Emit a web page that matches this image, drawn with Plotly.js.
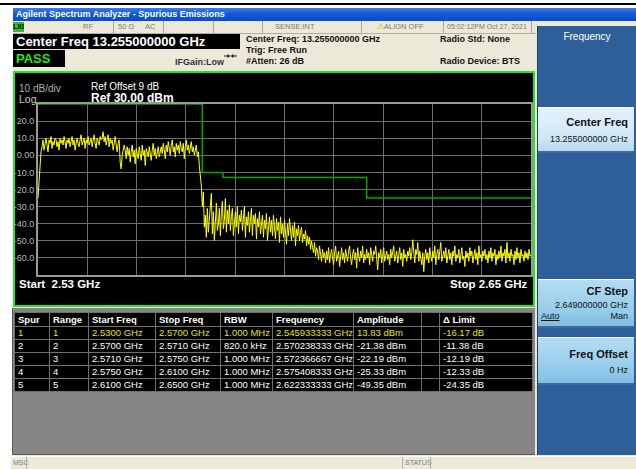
<!DOCTYPE html>
<html><head><meta charset="utf-8">
<script src="https://cdn.plot.ly/plotly-3.0.1.min.js"></script>
<style>
body{margin:0;width:636px;height:469px;overflow:hidden;background:#fff;font-family:"Liberation Sans",Arial,sans-serif;position:relative}
.a{position:absolute;white-space:nowrap}
.st{font-size:7.5px;color:#7a7a7a;line-height:12px}
.sep{position:absolute;top:21px;width:1px;height:12px;background:#a8a8a0}
.info{font-size:9px;font-weight:bold;color:#111;line-height:11px}
.btn{position:absolute;left:538px;width:96px;border-top:1px solid #f4fbff;border-bottom:2px solid #3c6c9c}
.bt{position:absolute;right:6px;font-weight:bold;font-size:11px;color:#111}
.bs{position:absolute;right:6px;font-size:9px;color:#111}
#tbl{position:absolute;left:14px;top:312px;border-collapse:collapse;table-layout:fixed;width:518px;font-size:9.5px;color:#fff;background:#000}
#tbl td,#tbl th{border:1px solid #707070;padding:0 0 0 3px;text-align:left;white-space:nowrap;overflow:hidden;height:12px;line-height:12px}
#tbl th{font-weight:bold;height:13px}
</style></head><body>

<!-- base backgrounds -->
<div class="a" style="left:0;top:3px;width:636px;height:2px;background:#000"></div>
<div class="a" style="left:13px;top:21px;width:623px;height:448px;background:#ece9d8"></div>
<div class="a" style="left:13px;top:8px;width:623px;height:13px;background:linear-gradient(#3a7ee8,#1258d8 45%,#0a4cc8)"></div>
<div class="a" style="left:16px;top:8px;font-size:9px;font-weight:bold;color:#fff;line-height:13px">Agilent Spectrum Analyzer - Spurious Emissions</div>

<!-- status row -->
<div class="a" style="left:13px;top:21px;width:523px;height:12px;background:#ece9d8;border-bottom:1px solid #b0b0a8"></div>
<div class="a" style="left:13px;top:22px;width:11px;height:10px;background:#3cb43c;font-size:7px;font-weight:bold;color:#000;line-height:10px;text-align:center">LXI</div>
<div class="sep" style="left:113px"></div><div class="sep" style="left:163px"></div><div class="sep" style="left:213px"></div>
<div class="sep" style="left:262px"></div><div class="sep" style="left:361px"></div><div class="sep" style="left:443px"></div><div class="sep" style="left:531px"></div>
<div class="a st" style="left:83px;top:21px">RF</div>
<div class="a st" style="left:118px;top:21px">50 Ω</div>
<div class="a st" style="left:145px;top:21px">AC</div>
<div class="a st" style="left:275px;top:21px">SENSE:INT</div>
<div class="a st" style="left:377px;top:21px"><span style="color:#d8b800">⚠</span>ALIGN OFF</div>
<div class="a st" style="left:447px;top:21px;font-size:7px">05:02:12PM Oct 27, 2021</div>

<!-- center freq / pass -->
<div class="a" style="left:13px;top:34px;width:227px;height:15px;background:#000;color:#fff;font-size:13px;font-weight:bold;line-height:15px;padding-left:3px;box-sizing:border-box">Center Freq 13.255000000 GHz</div>
<div class="a" style="left:13px;top:50px;width:52px;height:17px;background:#000;color:#1ee81e;font-size:13px;font-weight:bold;line-height:17px;padding-left:3px;box-sizing:border-box">PASS</div>
<div class="a info" style="left:175px;top:57px;color:#333">IFGain:Low</div>
<svg class="a" style="left:224px;top:53px" width="13" height="6"><path d="M0 3H5M8 3H13" stroke="#222" stroke-width="1"/><path d="M6.5 3L3.5 1V5Z M6.5 3L9.5 1V5Z" fill="#222"/></svg>
<div class="a info" style="left:246px;top:34px">Center Freq: 13.255000000 GHz</div>
<div class="a info" style="left:246px;top:45px">Trig: Free Run</div>
<div class="a info" style="left:246px;top:56px">#Atten: 26 dB</div>
<div class="a info" style="left:440px;top:34px">Radio Std: None</div>
<div class="a info" style="left:440px;top:56px">Radio Device: BTS</div>

<!-- right soft-key panel -->
<div class="a" style="left:537px;top:26px;width:99px;height:429px;background:#2f5f98;border-left:1px solid #1c3c64;box-sizing:border-box"></div>
<div class="a" style="left:538px;top:30px;width:98px;text-align:center;font-size:10px;color:#fff;line-height:13px">Frequency</div>
<div class="btn" style="top:107px;height:43px;background:linear-gradient(#e4f2fb,#cfe7f6 70%,#b4d8ef)">
  <div class="bt" style="top:8px">Center Freq</div><div class="bs" style="top:26px">13.255000000 GHz</div></div>
<div class="btn" style="top:279px;height:46px;background:linear-gradient(#b4dcf2,#94cbea 70%,#80bde2)">
  <div class="bt" style="top:5px">CF Step</div><div class="bs" style="top:20px">2.649000000 GHz</div>
  <div class="a" style="left:3px;top:31px;font-size:9px;color:#111;text-decoration:underline">Auto</div><div class="bs" style="top:31px">Man</div></div>
<div class="btn" style="top:337px;height:45px;background:linear-gradient(#b4dcf2,#94cbea 70%,#80bde2)">
  <div class="bt" style="top:10px">Freq Offset</div><div class="bs" style="top:27px">0 Hz</div></div>

<!-- trace frame -->
<div class="a" style="left:13px;top:71px;width:522px;height:236px;border:2px solid #22e622;box-sizing:border-box;background:#000"></div>
<div id="chart" class="a" style="left:0;top:73px;width:533px;height:232px"></div>

<!-- table area -->
<div class="a" style="left:12px;top:308px;width:523px;height:147px;background:#858585;border-left:1px solid #5a5a5a;border-bottom:1px solid #5a5a5a;box-sizing:border-box"></div>
<table id="tbl"></table>

<!-- bottom status -->
<div class="a" style="left:11px;top:456px;width:625px;height:13px;background:#ece9d8;border-top:1px solid #fff"></div>
<div class="a st" style="left:13px;top:457px;font-size:7px">MSC</div>
<div class="a" style="left:26px;top:457px;width:1px;height:12px;background:#b0b0a8"></div>
<div class="a" style="left:402px;top:457px;width:1px;height:12px;background:#b0b0a8"></div>
<div class="a st" style="left:405px;top:457px;font-size:7px">STATUS</div>
<div class="a" style="left:430px;top:457px;width:1px;height:12px;background:#b0b0a8"></div>

<script>
// ---- sweep ----
var freqStartGHz = 2.53;
var freqStopGHz = 2.65;
var traceDbm = [
 -25, -15, -5, 2,
 5,9,3,8,10,6,2,9,7,11,4,8,6,10,9,5,8,3,10,7,
 9,6,11,8,4,9,7,10,5,8,11,6,9,3,8,10,7,5,9,12,
 6,8,10,4,9,7,11,6,8,10,5,9,12,7,4,10,8,6,11,9,
 10, 13.83, 8,
 11,6,9,12,5,10,7,9,3,8,11,6,2,7,9,-4,-8,
 0, 4, 6,
 3,-2,5,0,4,-4,2,6,-1,3,-5,4,1,-2,5,2,-3,6,0,3,
 -6,4,1,-1,5,2,-3,3,7,0,4,-2,2,5,-1,3,
 5,1,7,3,-2,6,2,8,4,0,6,9,2,5,-1,7,3,6,1,8,
 4,2,7,-2,5,9,3,6,1,4,8,2,5,0,3,6,-1,
 2,-6,-12,-18,
 -30,-21.4,-42,-35,-48,-31,-45,-38,-29,-22.2,-46,-33,-50,-36,-28,-44,-40,-31,-47,-34,
 -27,-43,-38,-25.3,
 -45,-32,-40,-29,-44,-36,-31,-47,-38,-33,-42,-30,-46,-35,-39,-32,-44,-37,-30,-48,
 -36,-41,-33,-45,-38,-31,-47,-35,-40,-34,-49,-37,-42,-33,-46,-39,-35,-48,-38,-43,
 -34,-50,-40,-36,-45,-38,-47,-35,-42,-49,-37,-44,-39,-51,-36,-46,-40,-48,-38,-44,
 -52,-40,-47,-37,-45,-50,-41,-48,-39,-53,-43,-47,-41,-50,-45,
 -42,-51,-46,-49,-44,-53,-47,-52,-48,-55,-50,-54,-57,-51,-59,-54,-56,-61,-53,-58,
 -62,-55,-60,-57,-63,
 -56,-61,-54,-63,-58,-55,-60,-64,-57,-53,-62,-59,-56,-65,-58,-54,-61,-57,-63,-55,
 -59,-62,-56,-53,-60,-64,-58,-55,-61,-57,-66,-54,-59,-62,-56,-60,-53,-63,-58,-61,
 -55,-60,-57,-64,-54,-59,-62,-56,-58,-53,-61,-67,-57,-60,-55,-63,-58,-54,-62,-59,
 -56,-61,-58,-64,-55,-60,-57,-53,-62,-59,-56,-63,-58,-54,-61,-57,-65,-55,-60,-58,
 -62,-56,-59,-54,-61,-57,-49.4,-60,-63,-55,-58,-51,-62,-56,-60,-64,-57,-68,-59,-55,
 -61,-57,-63,-54,-59,-62,-56,-60,-53,-64,-58,-55,-61,-57,-51,-62,-59,-56,-60,-54,
 -63,-58,-55,-61,-57,-64,-56,-59,-53,-62,-58,-60,-55,-63,-57,-54,-61,-59,-65,-56,
 -60,-57,-62,-54,-59,-56,-63,-58,-55,-61,-57,-64,-53,-60,-58,-62,-56,-59,-55,-61,
 -58,-63,-56,-60,-54,-62,-57,-59,-55,-64,-58,-61,-56,-60,-53,-62,-57,-59,-55,-63,
 -51,-60,-57,-62,-55,-59,-58,-64,-56,-61,-54,-60,-57,-63,-55,-59,-58,-62,-56,-60,
 -57,-61,-55,-59,-58
];

// ---- spur table ----
var spurNums = [1, 2, 3, 4, 5];
var rangeNums = [1, 2, 3, 4, 5];
var rangeStartGHz = [2.5300, 2.5700, 2.5710, 2.5750, 2.6100];
var rangeStopGHz = [2.5700, 2.5710, 2.5750, 2.6100, 2.6500];
var rbwText = ["1.000 MHz", "820.0 kHz", "1.000 MHz", "1.000 MHz", "1.000 MHz"];
var spurFreqText = ["2.545933333 GHz", "2.570238333 GHz", "2.572366667 GHz", "2.575408333 GHz", "2.622333333 GHz"];
var spurAmpDbm = [13.83, -21.38, -22.19, -25.33, -49.35];
var deltaLimitDb = [-16.17, -11.38, -12.19, -12.33, -24.35];
var yTickVals = [20, 10, 0, -10, -20, -30, -40, -50, -60];
var yTickText = ["20.0", "10.0", "0.00", "-10.0", "-20.0", "-30.0", "-40.0", "-50.0", "-60.0"];

// trace x from sweep
var n = traceDbm.length;
var traceX = traceDbm.map(function (v, i) { return freqStartGHz + (freqStopGHz - freqStartGHz) * i / (n - 1); });

// limit line from ranges
var limX = [], limY = [];
for (var i = 0; i < rangeNums.length; i++) {
  var lim = Math.round((spurAmpDbm[i] - deltaLimitDb[i]) * 100) / 100;
  limX.push(rangeStartGHz[i], rangeStopGHz[i]);
  limY.push(lim, lim);
}

var traces = [
  {x: limX, y: limY, mode: 'lines', line: {color: '#00a800', width: 1.5}, hoverinfo: 'skip'},
  {x: traceX, y: traceDbm, mode: 'lines', line: {color: '#ffff00', width: 1}, hoverinfo: 'skip'}
];

var annFont = 'Liberation Sans, Arial, sans-serif';
var layout = {
  width: 533, height: 232,
  margin: {l: 38, r: 2, t: 31, b: 30, pad: 0},
  paper_bgcolor: 'rgba(0,0,0,0)', plot_bgcolor: '#000',
  showlegend: false,
  font: {family: annFont},
  xaxis: {range: [freqStartGHz, freqStopGHz], tick0: freqStartGHz, dtick: 0.012, showgrid: true,
    gridcolor: '#6e6e6e', gridwidth: 1, showticklabels: false, ticks: '', zeroline: false,
    showline: true, linecolor: '#9a9a9a', linewidth: 2, mirror: true, fixedrange: true},
  yaxis: {range: [-70, 30], tickvals: yTickVals, ticktext: yTickText, showgrid: true,
    gridcolor: '#6e6e6e', gridwidth: 1, ticks: '', zeroline: false, showline: true,
    linecolor: '#9a9a9a', linewidth: 2, mirror: true, ticklabelstandoff: 0,
    tickfont: {size: 9, color: '#b8b8b8', family: 'Liberation Sans Narrow, Liberation Sans, Arial, sans-serif'}, fixedrange: true},
  annotations: [
    {xref: 'paper', yref: 'paper', x: -0.0426, y: 1.088, xanchor: 'left', yanchor: 'middle', showarrow: false,
     text: '10 dB/div', font: {size: 10, color: '#b0b0b0'}},
    {xref: 'paper', yref: 'paper', x: -0.0426, y: 1.029, xanchor: 'left', yanchor: 'middle', showarrow: false,
     text: 'Log', font: {size: 10.5, color: '#c8c8c8'}},
    {xref: 'paper', yref: 'paper', x: 0.1034, y: 1.105, xanchor: 'left', yanchor: 'middle', showarrow: false,
     text: 'Ref Offset 9 dB', font: {size: 10, color: '#ffffff'}},
    {xref: 'paper', yref: 'paper', x: 0.1034, y: 1.035, xanchor: 'left', yanchor: 'middle', showarrow: false,
     text: '<b>Ref 30.00 dBm</b>', font: {size: 12, color: '#ffffff'}},
    {xref: 'paper', yref: 'paper', x: -0.0426, y: -0.053, xanchor: 'left', yanchor: 'middle', showarrow: false,
     text: '<b>Start  2.53 GHz</b>', font: {size: 11.5, color: '#ffffff'}},
    {xref: 'paper', yref: 'paper', x: 0.998, y: -0.053, xanchor: 'right', yanchor: 'middle', showarrow: false,
     text: '<b>Stop 2.65 GHz</b>', font: {size: 11.5, color: '#ffffff'}}
  ]
};
Plotly.newPlot('chart', traces, layout, {staticPlot: true, displayModeBar: false});

// build table
var colW = [35, 39, 67, 65, 52, 81, 68, 18, 93];
var heads = ['Spur', 'Range', 'Start Freq', 'Stop Freq', 'RBW', 'Frequency', 'Amplitude', '', 'Δ Limit'];
var html = '<colgroup>' + colW.map(function (w) { return '<col style="width:' + w + 'px">'; }).join('') + '</colgroup>';
html += '<tr>' + heads.map(function (h) { return '<th>' + h + '</th>'; }).join('') + '</tr>';
for (var r = 0; r < spurNums.length; r++) {
  var c = r === 0 ? ' style="color:#e2e600"' : '';
  var cells = [spurNums[r], rangeNums[r], rangeStartGHz[r].toFixed(4) + ' GHz', rangeStopGHz[r].toFixed(4) + ' GHz',
    rbwText[r], spurFreqText[r], spurAmpDbm[r].toFixed(2) + ' dBm', '', deltaLimitDb[r].toFixed(2) + ' dB'];
  html += '<tr' + c + '>' + cells.map(function (t) { return '<td>' + t + '</td>'; }).join('') + '</tr>';
}
document.getElementById('tbl').innerHTML = html;
</script>
</body></html>
